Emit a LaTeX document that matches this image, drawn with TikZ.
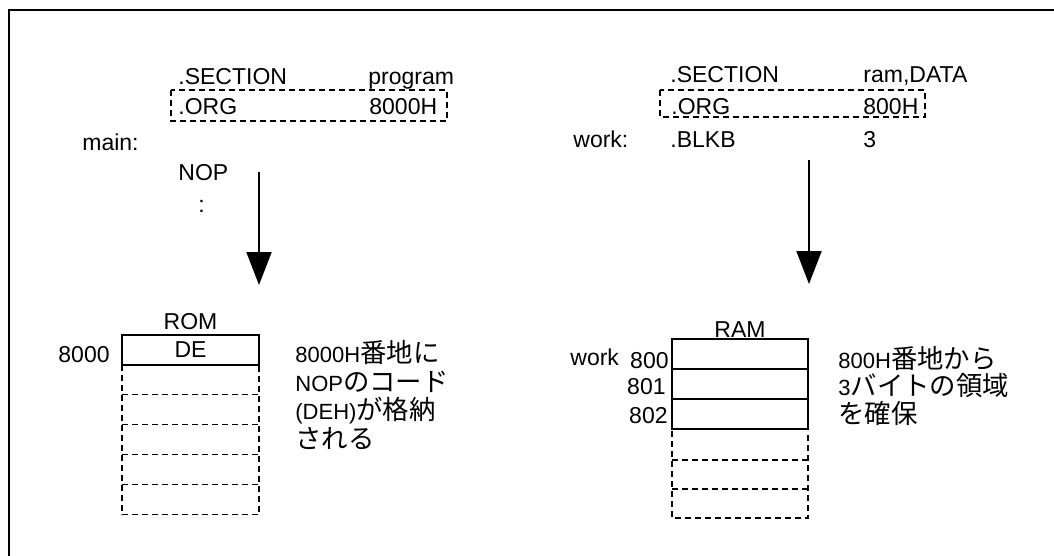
\documentclass[tikz,border=0pt]{standalone}
\usepackage{fontspec}
\setmainfont{Liberation Sans}
\newfontfamily\jp[Scale=1.2]{Noto Sans CJK JP}
\usepackage{tikz}
\usetikzlibrary{arrows.meta, positioning}

\begin{document}
\begin{tikzpicture}[x=0.5pt,y=-0.5pt,font=\fontsize{11.5pt}{13pt}\selectfont,>={Triangle[width=12.5pt,length=16.5pt]}]

	\tikzset{code/.style={inner sep=0pt, anchor=base west}}
	\tikzset{addr/.style={inner sep=0pt, anchor=base east}}
	\tikzset{note/.style={inner sep=0pt, anchor=base west, align=left,
			font={\fontsize{11pt}{14.2pt}\selectfont\lineskiplimit=-20pt}}}
	\tikzset{cell/.style={rectangle, draw, line width=1pt, outer sep=0pt,
			minimum width=68.5pt, minimum height=15pt, inner sep=0pt}}
	\tikzset{free/.style={cell, draw=none}}
	\tikzset{dashbox/.style={line width=0.6pt, dash pattern=on 3pt off 2pt}}
	\tikzset{flow/.style={->, line width=1pt}}

	\useasboundingbox (0,0) rectangle (1054,556);
	\draw[line width=1.3pt] (9,560) -- (9,10) -- (1060,10);

	% program side
	\node[code] (secL) at (178,84) {.SECTION};
	\node[code] (progL) at (368,84) {program};
	\node[code] (orgL) at (178,114) {.ORG};
	\node[code] (adrL) at (369,114) {8000H};
	\draw[dashbox] (171,90) rectangle (447,121);
	\node[code] (mainL) at (82,150) {main:};
	\node[code] (nop) at (178,180) {NOP};
	\node[code] (dots) at (198,212) {:};

	\coordinate (arrLa) at (259,172);
	\coordinate (arrLb) at (259,285);
	\draw[flow] (arrLa) -- (arrLb);

	\node[cell] (rom0) at (190.5,349.5) {DE};
	\node[free, below=0pt of rom0] (rom1) {};
	\node[free, below=0pt of rom1] (rom2) {};
	\node[free, below=0pt of rom2] (rom3) {};
	\node[free, below=0pt of rom3] (rom4) {};
	\node[free, below=0pt of rom4] (rom5) {};
	\draw[dashbox] (rom1.north west) -- (rom5.south west) -- (rom5.south east) -- (rom1.north east);
	\draw[dashbox] (rom1.south west) -- (rom1.south east);
	\draw[dashbox] (rom2.south west) -- (rom2.south east);
	\draw[dashbox] (rom3.south west) -- (rom3.south east);
	\draw[dashbox] (rom4.south west) -- (rom4.south east);
	\node[above=2pt of rom0, inner sep=0pt] (romL) {ROM};
	\node[addr] (romA) at (110,362) {8000};
	\node[note] (romN) at (295,448) {8000H{\jp 番地に}\\NOP{\jp のコード}\\(DEH){\jp が格納}\\{\jp される}};

	% data side
	\node[code] (secR) at (670,83) {.SECTION};
	\node[code] (ramR) at (863,83) {ram,DATA};
	\node[code] (orgR) at (671,114) {.ORG};
	\node[code] (adrR) at (863,114) {800H};
	\draw[dashbox] (660,90) rectangle (925,117);
	\node[code] (workR) at (573,148) {work:};
	\node[code] (blkb) at (670,148) {.BLKB};
	\node[code] (cnt) at (863,148) {3};

	\coordinate (arrRa) at (809,160);
	\coordinate (arrRb) at (809,284);
	\draw[flow] (arrRa) -- (arrRb);

	\node[cell, minimum width=68pt] (ram0) at (740,354) {};
	\node[cell, minimum width=68pt, below=0pt of ram0] (ram1) {};
	\node[cell, minimum width=68pt, below=0pt of ram1] (ram2) {};
	\node[free, minimum width=68pt, minimum height=14.5pt, below=1pt of ram2] (ram3) {};
	\node[free, minimum width=68pt, minimum height=14.5pt, below=0pt of ram3] (ram4) {};
	\node[free, minimum width=68pt, minimum height=14.5pt, below=0pt of ram4] (ram5) {};
	\draw[dashbox] (ram3.north west) -- (ram5.south west) -- (ram5.south east) -- (ram3.north east);
	\draw[dashbox] (ram3.south west) -- (ram3.south east);
	\draw[dashbox] (ram4.south west) -- (ram4.south east);
	\node[above=0.5pt of ram0, inner sep=0pt] (ramL) {RAM};
	\node[code] (workL) at (570,365) {work};
	\node[addr] (a800) at (669,368) {800};
	\node[addr] (a801) at (666,394) {801};
	\node[addr] (a802) at (668,423) {802};
	\node[note, font={\fontsize{11pt}{13.75pt}\selectfont\lineskiplimit=-20pt}] (ramN) at (838,423) {800H{\jp 番地から}\\3{\jp バイトの領域}\\{\jp を確保}};

\end{tikzpicture}
\end{document}
